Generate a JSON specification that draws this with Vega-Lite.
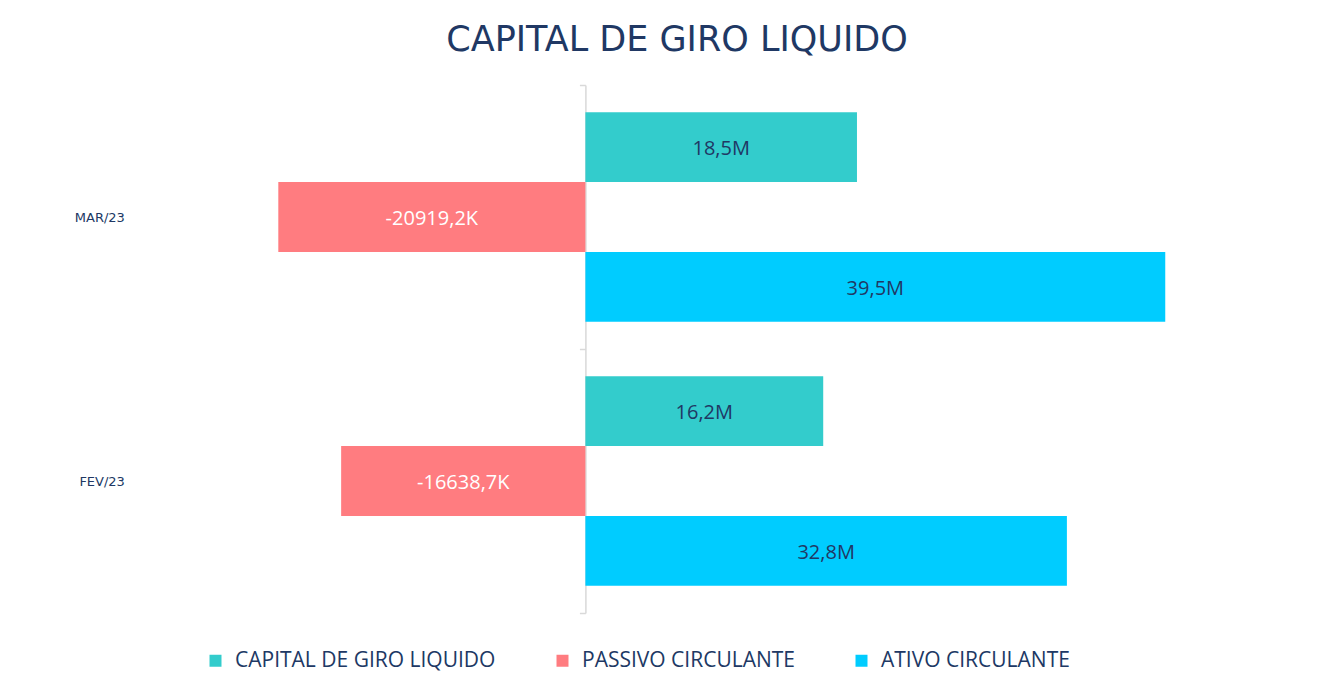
{
  "$schema": "https://vega.github.io/schema/vega-lite/v6.json",
  "width": 1064,
  "height": 528,
  "autosize": {"type": "none"},
  "padding": {"left": 145, "top": 85, "right": 134, "bottom": 80},
  "background": "white",
  "title": {
    "text": "CAPITAL DE GIRO LIQUIDO",
    "font": "DejaVu Sans",
    "fontSize": 35,
    "fontWeight": "normal",
    "color": "#203864",
    "anchor": "middle",
    "offset": 21
  },
  "data": {
    "values": [
      {"month": "MAR/23", "series": "CAPITAL DE GIRO LIQUIDO", "value": 18.5, "label": "18,5M"},
      {"month": "MAR/23", "series": "PASSIVO CIRCULANTE", "value": -20.9192, "label": "-20919,2K"},
      {"month": "MAR/23", "series": "ATIVO CIRCULANTE", "value": 39.5, "label": "39,5M"},
      {"month": "FEV/23", "series": "CAPITAL DE GIRO LIQUIDO", "value": 16.2, "label": "16,2M"},
      {"month": "FEV/23", "series": "PASSIVO CIRCULANTE", "value": -16.6387, "label": "-16638,7K"},
      {"month": "FEV/23", "series": "ATIVO CIRCULANTE", "value": 32.8, "label": "32,8M"}
    ]
  },
  "transform": [{"calculate": "datum.value / 2", "as": "mid"}],
  "encoding": {
    "y": {
      "field": "month",
      "type": "nominal",
      "sort": ["MAR/23", "FEV/23"],
      "scale": {"paddingInner": 0, "paddingOuter": 0},
      "axis": {
        "title": null,
        "offset": -440.4,
        "tickBand": "extent",
        "tickSize": 6,
        "tickColor": "#D9D9D9",
        "tickWidth": 1.5,
        "domainColor": "#D9D9D9",
        "domainWidth": 1.5,
        "labelPadding": 455,
        "labelFont": "DejaVu Sans",
        "labelFontSize": 13,
        "labelColor": "#203864",
        "labelAlign": "right"
      }
    },
    "yOffset": {
      "field": "series",
      "type": "nominal",
      "sort": ["CAPITAL DE GIRO LIQUIDO", "PASSIVO CIRCULANTE", "ATIVO CIRCULANTE"],
      "scale": {"paddingInner": 0, "paddingOuter": 0.39}
    }
  },
  "layer": [
    {
      "mark": {"type": "bar"},
      "encoding": {
        "x": {
          "field": "value",
          "type": "quantitative",
          "scale": {"domain": [-30, 42.48], "nice": false, "zero": false},
          "axis": null
        },
        "color": {
          "field": "series",
          "type": "nominal",
          "scale": {
            "domain": ["CAPITAL DE GIRO LIQUIDO", "PASSIVO CIRCULANTE", "ATIVO CIRCULANTE"],
            "range": ["#33CCCC", "#FF7C80", "#00CCFF"]
          },
          "legend": {
            "title": null,
            "orient": "none",
            "direction": "horizontal",
            "legendX": 60,
            "legendY": 565,
            "symbolType": "square",
            "symbolSize": 144,
            "symbolStrokeWidth": 0,
            "symbolOpacity": 1,
            "labelFont": "Open Sans",
            "labelFontSize": 21,
            "labelColor": "#203864",
            "labelOffset": 9,
            "columnPadding": 56,
            "labelLimit": 400
          }
        }
      }
    },
    {
      "mark": {"type": "text", "font": "Open Sans", "fontSize": 20, "align": "center", "baseline": "middle", "dy": 2},
      "encoding": {
        "x": {"field": "mid", "type": "quantitative"},
        "text": {"field": "label"},
        "color": {
          "condition": {"test": "datum.series === 'PASSIVO CIRCULANTE'", "value": "#FFFFFF"},
          "value": "#203864"
        }
      }
    }
  ],
  "config": {"view": {"stroke": null}}
}
